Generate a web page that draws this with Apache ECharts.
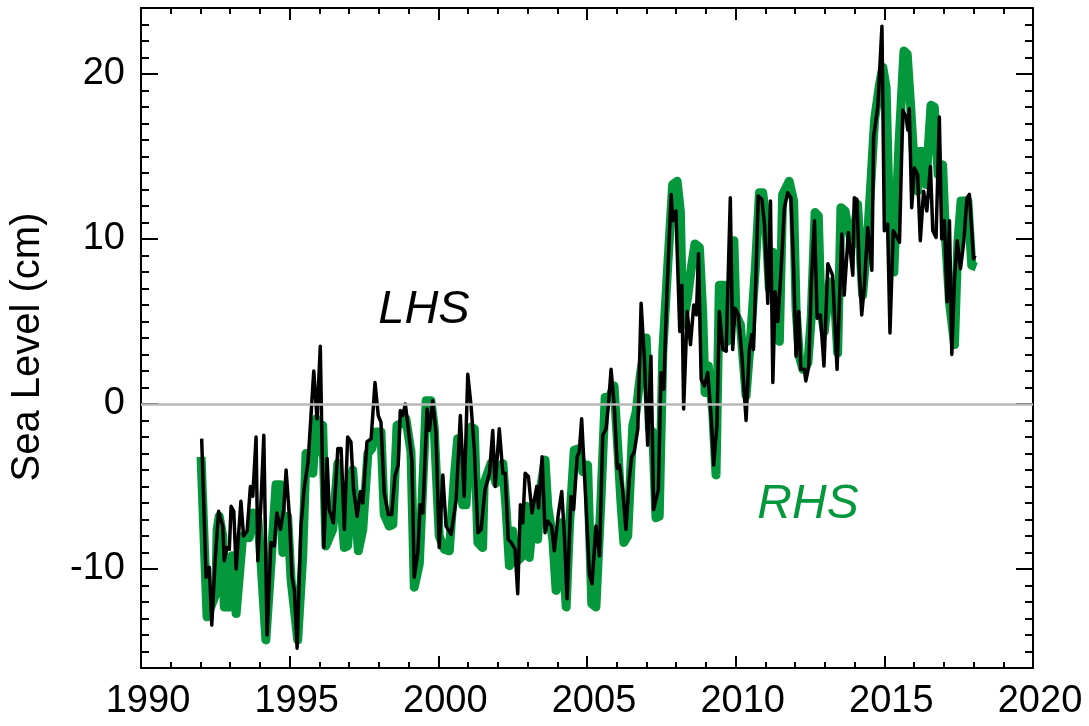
<!DOCTYPE html>
<html>
<head>
<meta charset="utf-8">
<script src="https://cdn.jsdelivr.net/npm/echarts@6/dist/echarts.min.js"></script>
<style>
html,body{margin:0;padding:0;background:#fff;}
#chart{width:1089px;height:726px;}
</style>
</head>
<body>
<div id="chart"></div>
<script>
// ---- data ----
const xTickYears = [1990, 1995, 2000, 2005, 2010, 2015, 2020];
const yTickValues = [-10, 0, 10, 20];

const lhsYears = [
1992.04,1992.19,1992.30,1992.38,1992.49,1992.61,1992.75,1992.80,1992.89,1992.97,
1993.03,1993.12,1993.20,1993.36,1993.45,1993.57,1993.68,1993.76,1993.87,1993.93,
1994.04,1994.13,1994.24,1994.37,1994.48,1994.57,1994.69,1994.80,1994.88,1994.99,
1995.08,1995.16,1995.25,1995.38,1995.49,1995.62,1995.81,1995.92,1996.03,1996.15,
1996.26,1996.33,1996.47,1996.62,1996.73,1996.84,1996.95,1997.06,1997.15,1997.27,
1997.38,1997.46,1997.60,1997.74,1997.87,1997.98,1998.07,1998.18,1998.32,1998.43,
1998.54,1998.65,1998.72,1998.80,1998.89,1998.99,1999.11,1999.19,1999.31,1999.39,
1999.48,1999.62,1999.70,1999.81,1999.92,2000.03,2000.15,2000.26,2000.43,2000.60,
2000.74,2000.87,2000.99,2001.10,2001.21,2001.33,2001.44,2001.57,2001.72,2001.83,
2001.91,2002.05,2002.17,2002.25,2002.35,2002.45,2002.58,2002.67,2002.76,2002.84,
2002.92,2003.03,2003.15,2003.31,2003.37,2003.49,2003.59,2003.68,2003.81,2003.90,
2004.04,2004.15,2004.24,2004.33,2004.46,2004.55,2004.67,2004.74,2004.82,2004.97,
2005.08,2005.17,2005.30,2005.42,2005.53,2005.64,2005.72,2005.81,2005.92,2006.02,
2006.09,2006.20,2006.31,2006.42,2006.50,2006.59,2006.71,2006.82,2006.93,2007.04,
2007.15,2007.24,2007.40,2007.49,2007.58,2007.69,2007.83,2007.88,2007.99,2008.07,
2008.12,2008.19,2008.25,2008.37,2008.48,2008.59,2008.68,2008.75,2008.84,2008.95,
2009.06,2009.18,2009.26,2009.37,2009.45,2009.57,2009.68,2009.82,2009.90,2009.98,
2010.09,2010.21,2010.35,2010.46,2010.54,2010.60,2010.69,2010.76,2010.88,2010.97,
2011.08,2011.17,2011.25,2011.33,2011.42,2011.53,2011.64,2011.75,2011.86,2011.95,
2012.03,2012.12,2012.19,2012.31,2012.36,2012.46,2012.54,2012.65,2012.74,2012.85,
2012.97,2013.10,2013.26,2013.41,2013.57,2013.65,2013.79,2013.94,2013.99,2014.08,
2014.16,2014.24,2014.33,2014.44,2014.58,2014.64,2014.78,2014.92,2015.00,2015.11,
2015.19,2015.30,2015.43,2015.51,2015.62,2015.73,2015.79,2015.84,2015.92,2016.01,
2016.12,2016.21,2016.32,2016.43,2016.55,2016.63,2016.74,2016.85,2016.93,2017.02,
2017.11,2017.19,2017.27,2017.36,2017.45,2017.56,2017.67,2017.78,2017.86,2017.94,
2018.00,2018.05
];
const lhsValues = [
-2.1,-10.5,-9.9,-13.4,-9.6,-6.5,-7.4,-9.5,-8.7,-8.8,
-6.2,-6.5,-10.0,-5.9,-8.0,-7.7,-5.0,-5.6,-2.0,-9.5,
-5.8,-1.9,-14.0,-8.4,-8.6,-6.6,-7.6,-6.4,-4.0,-6.8,
-10.5,-11.3,-14.8,-7.4,-5.1,-3.5,2.0,-0.9,3.5,-8.7,
-3.3,-6.4,-7.2,-2.7,-2.7,-7.6,-2.0,-2.3,-5.2,-6.8,
-5.3,-6.0,-2.3,-2.1,1.3,-0.7,-1.1,-5.4,-6.7,-6.7,
-4.4,-3.7,-0.4,-0.7,0.0,-1.5,-3.4,-10.5,-9.0,-6.1,
-6.6,-0.3,-1.6,0.2,-1.7,-8.7,-4.3,-7.4,-7.9,-5.8,
-0.7,-5.6,1.8,-0.1,-2.7,-7.8,-7.6,-5.2,-4.2,-1.6,
-5.0,-1.5,-4.2,-4.2,-8.2,-8.4,-8.8,-11.5,-6.1,-7.2,
-4.2,-4.4,-6.6,-5.0,-6.3,-3.2,-7.8,-7.1,-7.4,-8.9,
-6.6,-5.3,-8.0,-11.8,-5.6,-6.4,-3.2,-2.9,-0.9,-6.2,
-10.3,-10.9,-7.4,-9.2,-1.9,-1.5,-0.1,2.1,-0.2,-3.9,
-3.7,-5.2,-7.6,-4.6,-3.2,-2.9,-1.5,6.1,2.7,-2.5,
2.9,-6.4,-5.2,1.9,0.9,6.8,12.7,11.1,11.7,7.2,
4.4,7.2,-0.3,5.6,3.6,6.0,5.4,9.1,1.5,1.1,
1.9,-0.9,-3.7,-1.3,5.6,3.3,3.2,12.5,3.3,5.8,
5.4,2.9,-1.0,3.3,4.2,3.3,8.2,12.6,12.4,10.9,
6.1,12.3,1.3,6.8,5.0,8.2,11.9,12.8,12.5,8.2,
2.9,5.6,2.1,2.1,1.4,2.3,7.2,11.1,5.2,5.4,
2.3,8.5,7.8,2.1,10.3,6.6,10.4,7.8,12.5,12.4,
8.0,5.4,7.2,10.7,8.1,16.2,18.0,22.9,10.5,10.9,
4.3,10.5,10.1,9.8,17.8,17.4,16.6,17.9,11.9,14.3,
13.9,9.9,12.9,11.7,14.4,10.5,10.1,17.4,10.0,11.1,
6.2,11.1,3.0,7.6,9.9,8.2,9.8,12.5,12.7,10.5,
8.8,9.0
];

const rhsYears = [
1992.02,1992.22,1992.52,1992.56,1992.63,1992.75,1992.80,1992.97,1993.05,1993.20,
1993.42,1993.64,1993.76,1993.93,1994.04,1994.20,1994.37,1994.54,1994.69,1994.77,
1994.93,1995.05,1995.27,1995.44,1995.55,1995.78,1995.89,1995.96,1996.11,1996.22,
1996.45,1996.62,1996.84,1996.95,1997.12,1997.31,1997.46,1997.63,1997.76,1997.90,
1998.07,1998.18,1998.35,1998.47,1998.61,1998.75,1998.91,1999.08,1999.19,1999.36,
1999.53,1999.59,1999.75,1999.86,2000.03,2000.20,2000.37,2000.54,2000.65,2000.82,
2000.93,2001.10,2001.21,2001.33,2001.49,2001.54,2001.77,2001.94,2002.17,2002.28,
2002.39,2002.50,2002.61,2002.78,2002.95,2003.06,2003.23,2003.34,2003.45,2003.59,
2003.68,2003.85,2003.96,2004.13,2004.30,2004.41,2004.57,2004.74,2004.86,2005.02,
2005.16,2005.30,2005.47,2005.61,2005.75,2005.91,2006.03,2006.09,2006.15,2006.24,
2006.37,2006.54,2006.65,2006.79,2006.99,2007.10,2007.21,2007.32,2007.43,2007.55,
2007.71,2007.88,2008.03,2008.14,2008.22,2008.38,2008.52,2008.63,2008.78,2008.89,
2008.97,2009.08,2009.23,2009.34,2009.45,2009.62,2009.71,2009.82,2009.94,2010.01,
2010.16,2010.35,2010.51,2010.66,2010.80,2010.91,2010.99,2011.13,2011.25,2011.36,
2011.47,2011.58,2011.80,2011.95,2012.03,2012.14,2012.26,2012.43,2012.54,2012.67,
2012.78,2012.87,2012.98,2013.16,2013.30,2013.43,2013.54,2013.68,2013.79,2013.94,
2014.10,2014.27,2014.44,2014.55,2014.67,2014.84,2014.95,2015.06,2015.17,2015.32,
2015.49,2015.66,2015.77,2015.88,2015.99,2016.12,2016.18,2016.29,2016.40,2016.57,
2016.68,2016.81,2016.96,2017.07,2017.19,2017.36,2017.47,2017.58,2017.81,2017.94,
2018.09
];
const rhsValues = [
-3.2,-12.9,-11.5,-7.6,-6.8,-8.0,-12.3,-12.3,-9.2,-12.7,
-8.0,-8.1,-6.6,-7.0,-9.7,-14.3,-9.7,-4.9,-4.9,-9.0,
-6.8,-10.7,-14.3,-9.2,-3.0,-4.2,-0.9,-2.9,-1.3,-8.6,
-7.6,-3.6,-8.7,-8.6,-4.0,-8.9,-7.6,-3.0,-2.7,-1.7,
-1.7,-6.7,-7.4,-7.3,-1.3,-1.2,-0.9,-2.9,-11.1,-9.7,
-2.7,0.2,0.2,-1.4,-8.0,-8.8,-8.9,-4.4,-2.1,-6.1,
-6.1,-1.4,-1.5,-8.4,-8.7,-4.8,-3.6,-4.8,-3.6,-6.4,
-9.8,-7.7,-9.6,-9.3,-6.2,-9.3,-6.0,-8.2,-5.0,-3.4,
-6.2,-8.2,-11.3,-7.2,-12.3,-7.4,-2.8,-2.7,-4.1,-3.7,
-12.1,-12.3,-5.8,0.4,0.4,1.1,-2.5,-4.4,-6.2,-8.4,
-8.0,-1.3,-0.5,1.7,4.0,-1.5,-1.7,-6.9,-6.8,3.2,
8.2,13.3,13.5,11.7,4.8,6.4,8.4,9.7,9.5,5.6,
0.7,2.3,-0.5,-4.3,7.2,7.2,3.8,6.2,9.9,5.4,
4.8,0.5,4.2,8.2,12.8,12.8,11.7,7.0,9.2,4.6,
3.8,12.7,13.5,12.3,5.8,2.9,2.1,2.5,5.2,11.6,
11.4,5.6,4.4,7.4,7.2,3.1,11.9,11.7,10.5,9.7,
12.1,6.6,10.3,13.5,17.2,19.4,20.4,19.2,11.3,8.0,
15.7,21.4,21.2,18.2,14.9,12.9,15.3,15.3,13.3,18.1,
18.0,13.9,14.5,9.7,6.2,3.6,9.7,12.3,12.3,8.4,
8.3
];

const lhsData = lhsYears.map((y, i) => [y, lhsValues[i]]);
const rhsData = rhsYears.map((y, i) => [y, rhsValues[i]]);

const GREEN = '#04973c';
const FONT = 'Liberation Sans, Arial, sans-serif';
const xMin = 1990, xMax = 2020, yMin = -16, yMax = 24;

const chart = echarts.init(document.getElementById('chart'), null, {renderer: 'canvas'});

const axisLine = {show: true, onZero: false, lineStyle: {color: '#000', width: 2}};

function xAx(pos, labels) {
  return {
    type: 'value', position: pos, min: xMin, max: xMax, interval: 5,
    axisLine: axisLine,
    axisTick: {show: true, inside: true, length: 12, lineStyle: {color: '#000', width: 2}},
    minorTick: {show: true, splitNumber: 5, length: 6, lineStyle: {color: '#000', width: 2}},
    splitLine: {show: false}, minorSplitLine: {show: false},
    axisLabel: labels ? {
      show: true, color: '#000', fontSize: 38, fontFamily: FONT, margin: 15,
      padding: [0, 0, 0, 14],
      customValues: xTickYears,
      formatter: v => String(v)
    } : {show: false}
  };
}
function yMinorAx(pos, labels) {
  return {
    type: 'value', position: pos, min: yMin, max: yMax, interval: 1,
    axisLine: axisLine,
    axisTick: {show: true, inside: true, length: 8, lineStyle: {color: '#000', width: 2}},
    splitLine: {show: false},
    axisLabel: labels ? {
      show: true, color: '#000', fontSize: 38, fontFamily: FONT, margin: 16,
      customValues: yTickValues,
      formatter: v => String(v)
    } : {show: false}
  };
}
function yMajorAx(pos) {
  return {
    type: 'value', position: pos, min: yMin, max: yMax, offset: 0,
    axisLine: {show: false},
    axisTick: {show: true, inside: true, length: 17, customValues: yTickValues,
               lineStyle: {color: '#000', width: 2}},
    splitLine: {show: false},
    axisLabel: {show: false}
  };
}

chart.setOption({
  animation: false,
  backgroundColor: '#fff',
  grid: {left: 141, right: 56, top: 8, bottom: 58, containLabel: false},
  xAxis: [xAx('bottom', true), xAx('top', false)],
  yAxis: [yMinorAx('left', true), yMinorAx('right', false), yMajorAx('left'), yMajorAx('right')],
  series: [
    {
      type: 'line', xAxisIndex: 0, yAxisIndex: 0, data: [], z: 1, silent: true,
      markLine: {
        silent: true, symbol: 'none', label: {show: false},
        lineStyle: {color: '#b8b8b8', width: 2.5, type: 'solid'},
        data: [{yAxis: 0}]
      }
    },
    {
      name: 'RHS', type: 'line', xAxisIndex: 0, yAxisIndex: 0, data: rhsData, z: 2,
      showSymbol: false, symbol: 'none', smooth: false,
      lineStyle: {color: GREEN, width: 9, join: 'round'}
    },
    {
      name: 'LHS', type: 'line', xAxisIndex: 0, yAxisIndex: 0, data: lhsData, z: 3,
      showSymbol: false, symbol: 'none', smooth: false,
      lineStyle: {color: '#000', width: 3.5, join: 'round'}
    }
  ],
  graphic: [
    {type: 'text', x: 28, y: 347, rotation: Math.PI / 2,
     style: {text: 'Sea Level (cm)', fontSize: 40, fontFamily: FONT, fill: '#000',
             align: 'center', verticalAlign: 'middle'}},
    {type: 'text', x: 424, y: 310,
     style: {text: 'LHS', fontSize: 47, fontStyle: 'italic', fontFamily: FONT, fill: '#000',
             align: 'center', verticalAlign: 'middle'}},
    {type: 'text', x: 808, y: 505,
     style: {text: 'RHS', fontSize: 48, fontStyle: 'italic', fontFamily: FONT, fill: GREEN,
             align: 'center', verticalAlign: 'middle'}}
  ]
});
</script>
</body>
</html>
